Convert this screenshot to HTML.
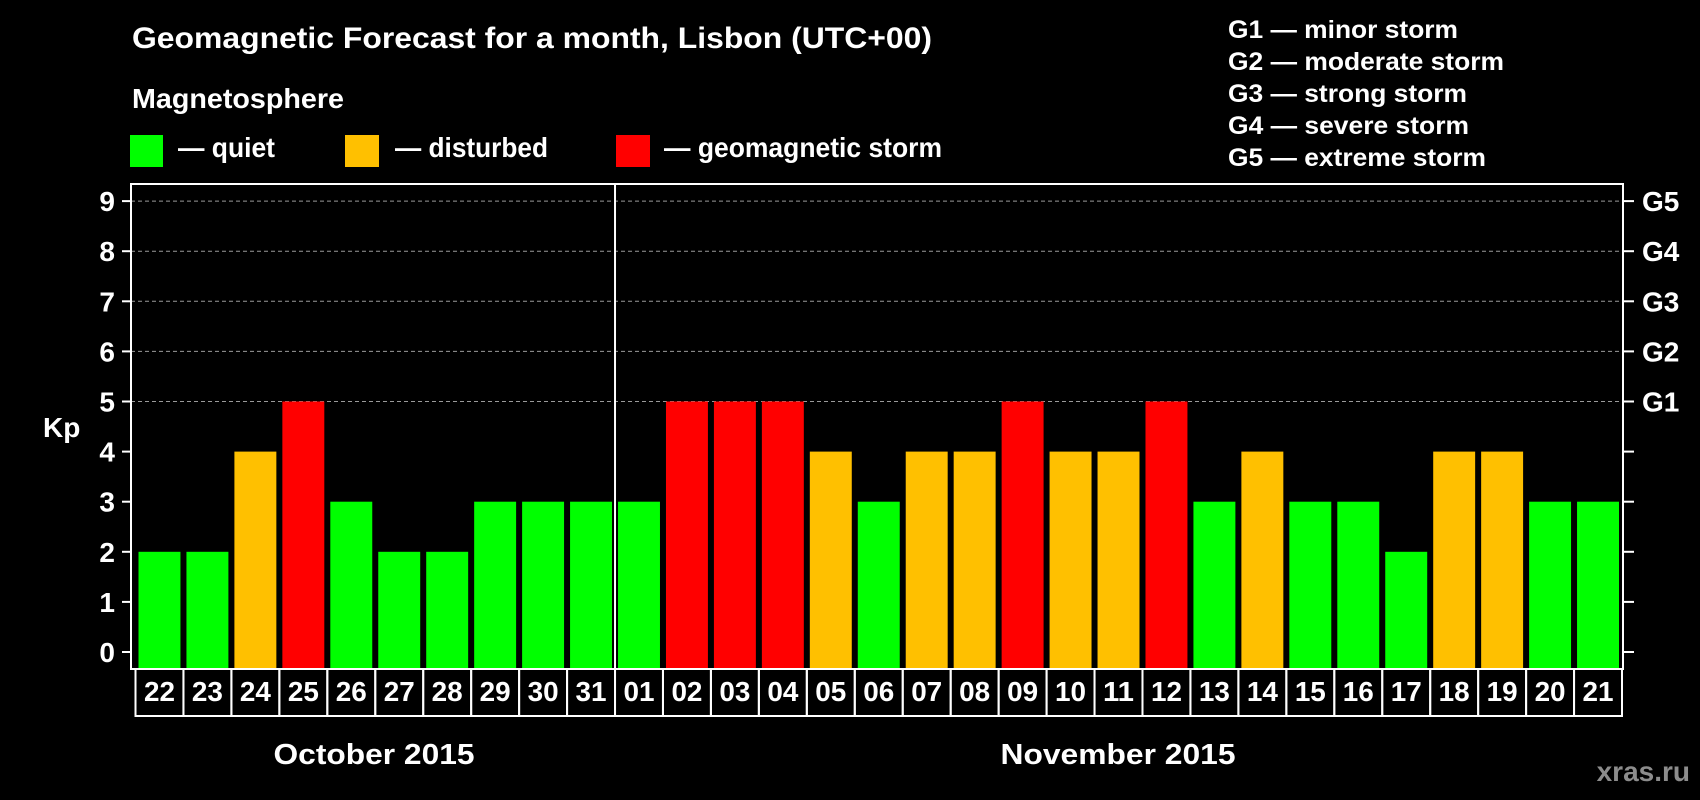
<!DOCTYPE html>
<html><head><meta charset="utf-8"><style>
html,body{margin:0;padding:0;background:#000;}
svg{display:block;font-family:"Liberation Sans",Arial,sans-serif;font-weight:bold;}
</style></head><body>
<svg id="chart" width="1700" height="800" viewBox="0 0 1700 800" xmlns="http://www.w3.org/2000/svg">
<rect width="1700" height="800" fill="#000"/>
<text x="132" y="48" font-size="30" fill="#fff" textLength="800" lengthAdjust="spacingAndGlyphs">Geomagnetic Forecast for a month, Lisbon (UTC+00)</text>
<text x="132" y="108" font-size="28" fill="#fff" textLength="212" lengthAdjust="spacingAndGlyphs">Magnetosphere</text>
<g>
<rect x="130" y="135" width="33" height="32" fill="#00ff00"/>
<text x="178" y="157" font-size="28" fill="#fff" textLength="97" lengthAdjust="spacingAndGlyphs">— quiet</text></g>
<g>
<rect x="345" y="135" width="34" height="32" fill="#ffc000"/>
<text x="395" y="157" font-size="28" fill="#fff" textLength="153" lengthAdjust="spacingAndGlyphs">— disturbed</text></g>
<g>
<rect x="616" y="135" width="34" height="32" fill="#ff0000"/>
<text x="664" y="157" font-size="28" fill="#fff" textLength="278" lengthAdjust="spacingAndGlyphs">— geomagnetic storm</text></g>
<g font-size="25" fill="#fff">
<text x="1228" y="38" textLength="230" lengthAdjust="spacingAndGlyphs">G1 — minor storm</text>
<text x="1228" y="70" textLength="276" lengthAdjust="spacingAndGlyphs">G2 — moderate storm</text>
<text x="1228" y="102" textLength="239" lengthAdjust="spacingAndGlyphs">G3 — strong storm</text>
<text x="1228" y="134" textLength="241" lengthAdjust="spacingAndGlyphs">G4 — severe storm</text>
<text x="1228" y="166" textLength="258" lengthAdjust="spacingAndGlyphs">G5 — extreme storm</text>
</g>
<text x="43" y="437" font-size="28" fill="#fff">Kp</text>
<text x="374" y="764" font-size="29" fill="#fff" text-anchor="middle" textLength="201" lengthAdjust="spacingAndGlyphs">October 2015</text>
<text x="1118" y="764" font-size="29" fill="#fff" text-anchor="middle" textLength="235" lengthAdjust="spacingAndGlyphs">November 2015</text>
<text x="1690" y="781" font-size="28" fill="#8c8c8c" text-anchor="end">xras.ru</text>
<g id="plot"></g>
</svg>
<script>
const days = ["22","23","24","25","26","27","28","29","30","31","01","02","03","04","05","06","07","08","09","10","11","12","13","14","15","16","17","18","19","20","21"];
const kpValues = [2,2,4,5,3,2,2,3,3,3,3,5,5,5,4,3,4,4,5,4,4,5,3,4,3,3,2,4,4,3,3];
const yTicks = [0,1,2,3,4,5,6,7,8,9];
const gLabels = ["G1","G2","G3","G4","G5"];
const monthBreakIndex = 10;

const NS = "http://www.w3.org/2000/svg";
const plot = document.getElementById("plot");
const L = 131, R = 1623, T = 184, B = 669;
const slotL = 135.5, slotW = (R - 1 - slotL) / days.length;
const y = v => 652 - v * 50.1;
const xs = i => slotL + i * slotW;
function mk(tag, attrs) { const e = document.createElementNS(NS, tag); for (const k in attrs) e.setAttribute(k, attrs[k]); plot.appendChild(e); return e; }
function color(v) { return v >= 5 ? "#ff0000" : v >= 4 ? "#ffc000" : "#00ff00"; }

yTicks.forEach(t => {
  if (t >= 5) {
    const g = mk("line", {x1: L, x2: R, y1: y(t), y2: y(t), stroke: "#9a9a9a", "stroke-width": 1, "stroke-dasharray": "4,3"});
    
    
  }
  const tk = mk("line", {x1: 122, x2: L, y1: y(t), y2: y(t), stroke: "#fff", "stroke-width": 2});
  
  
  const tr = mk("line", {x1: R, x2: 1634, y1: y(t), y2: y(t), stroke: "#fff", "stroke-width": 2});
  
  
  const lb = mk("text", {x: 115, y: y(t) + 10, "font-size": 28, fill: "#fff", "text-anchor": "end"});
  lb.textContent = t;
  
  
});
gLabels.forEach((g, i) => {
  const t = mk("text", {x: 1642, y: y(5 + i) + 10, "font-size": 28, fill: "#fff"});
  t.textContent = g;
  
  
});
kpValues.forEach((v, i) => {
  const b = mk("rect", {x: xs(i) + 3, y: y(v), width: slotW - 6, height: B - y(v), fill: color(v)});
  
  
});
days.forEach((d, i) => {
  const c = mk("rect", {x: xs(i), y: B, width: slotW, height: 47, fill: "none", stroke: "#fff", "stroke-width": 2});
  
  
  const t = mk("text", {x: xs(i) + slotW / 2, y: 701, "font-size": 28, fill: "#fff", "text-anchor": "middle", textLength: 31, lengthAdjust: "spacingAndGlyphs"});
  t.textContent = d;
  
  
});
const frame = mk("rect", {x: L, y: T, width: R - L, height: B - T, fill: "none", stroke: "#fff", "stroke-width": 2});


const div = mk("line", {x1: xs(monthBreakIndex), x2: xs(monthBreakIndex), y1: T, y2: 716, stroke: "#fff", "stroke-width": 2});


</script>
</body></html>
